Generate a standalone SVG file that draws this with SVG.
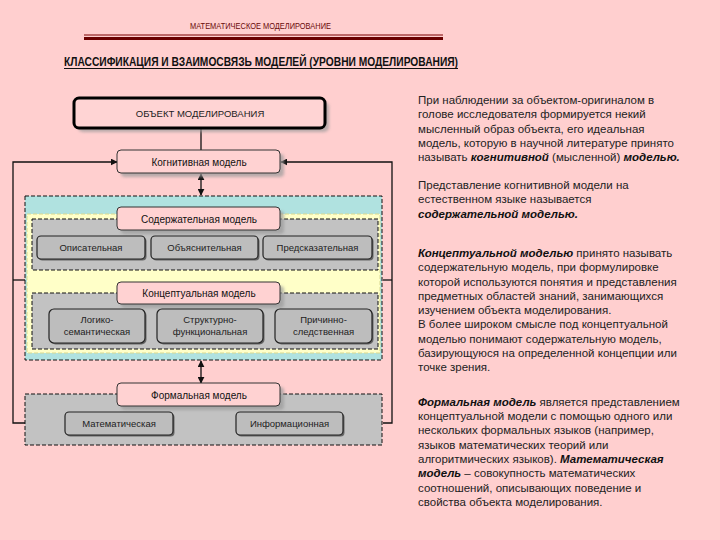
<svg xmlns="http://www.w3.org/2000/svg" width="720" height="540" viewBox="0 0 720 540">
<style>
text{font-family:"Liberation Sans",Arial,sans-serif;fill:#111}
.bg{fill:#ffcfcf}
.panel{stroke:#111;stroke-width:1;stroke-dasharray:4,2}
.gray{fill:#c2c2c2}
.pink{fill:#ffd2d2;stroke:#333;stroke-width:1}
.shadow{fill:#9a9a9a;opacity:0.7}
.sub{fill:#bdbdbd;stroke:#222;stroke-width:1.2}
.subsh{fill:#666}
.nt{font-size:10px;text-anchor:middle}
.st{font-size:9.5px;text-anchor:middle;fill:#222}
.rt{font-size:11.5px;fill:#222}
.bi{font-weight:bold;font-style:italic;fill:#111}
.ln{stroke:#111;stroke-width:1.3;fill:none}
</style>
<defs>
<marker id="ah" viewBox="0 0 10 10" refX="9" refY="5" markerWidth="7" markerHeight="7" orient="auto-start-reverse" markerUnits="userSpaceOnUse">
<path d="M0,0 L10,5 L0,10 z" fill="#111"/>
</marker>
<filter id="blur" x="-10%" y="-10%" width="130%" height="140%"><feGaussianBlur stdDeviation="1.5"/></filter>
</defs>
<rect class="bg" x="0" y="0" width="720" height="540"/>

<g id="header">
<text x="260.5" y="29" font-size="9.5" text-anchor="middle" style="fill:#6a0a0a" textLength="141" lengthAdjust="spacingAndGlyphs">МАТЕМАТИЧЕСКОЕ МОДЕЛИРОВАНИЕ</text>
<line x1="84" y1="35" x2="443" y2="35" stroke="#7a0000" stroke-width="1"/>
<line x1="84" y1="38.5" x2="443" y2="38.5" stroke="#6a0000" stroke-width="3"/>
<text x="261" y="66" font-size="13" font-weight="bold" text-anchor="middle" textLength="394" lengthAdjust="spacingAndGlyphs">КЛАССИФИКАЦИЯ И ВЗАИМОСВЯЗЬ МОДЕЛЕЙ (УРОВНИ МОДЕЛИРОВАНИЯ)</text>
<line x1="64" y1="68.5" x2="458" y2="68.5" stroke="#111" stroke-width="1"/>
</g>

<g id="panel-content">
<rect x="25" y="196" width="357" height="164" fill="#b0e2e0" class="panel"/>
<rect x="27" y="214" width="353" height="139" fill="#ffffc8" stroke="#d8d890" stroke-width="1" stroke-dasharray="4,2"/>
<rect x="32" y="219" width="346" height="51" class="gray panel"/>
<rect x="32" y="293" width="346" height="56" class="gray panel"/>
</g>
<g id="panel-formal">
<rect x="25" y="394" width="357" height="51" class="gray panel"/>
</g>

<g id="connectors">
<line class="ln" x1="201" y1="128" x2="201" y2="150"/>
<polyline class="ln" points="25,423 13,423 13,162 117,162" marker-end="url(#ah)"/>
<polyline class="ln" points="383,423 392,423 392,162 281,162" marker-end="url(#ah)"/>
<line class="ln" x1="13" y1="280" x2="25" y2="280"/>
<line class="ln" x1="383" y1="280" x2="392" y2="280"/>
<line class="ln" x1="201" y1="174" x2="201" y2="195" marker-start="url(#ah)" marker-end="url(#ah)"/>
<line class="ln" x1="201" y1="361" x2="201" y2="383" marker-start="url(#ah)" marker-end="url(#ah)"/>
</g>

<g id="node-object">
<rect x="78" y="102" width="251" height="30" rx="5" class="shadow" filter="url(#blur)"/>
<rect x="74" y="98" width="251" height="30" rx="5" fill="#ffd4d4" stroke="#000" stroke-width="3"/>
<text x="200" y="117" font-size="9.5" text-anchor="middle" style="fill:#222">ОБЪЕКТ   МОДЕЛИРОВАНИЯ</text>
</g>

<g id="node-cognitive">
<rect x="121" y="154" width="163" height="23" rx="4" class="shadow" filter="url(#blur)"/>
<rect x="117" y="150" width="163" height="23" rx="4" class="pink"/>
<text x="199" y="165.5" class="nt">Когнитивная модель</text>
</g>

<g id="node-content">
<rect x="121" y="211" width="163" height="23" rx="4" class="shadow" filter="url(#blur)"/>
<rect x="117" y="207" width="163" height="23" rx="4" class="pink"/>
<text x="199" y="222.5" class="nt">Содержательная модель</text>
</g>
<g id="node-descriptive">
<rect x="38.5" y="237.5" width="108" height="23" rx="4" class="subsh"/>
<rect x="37" y="236" width="108" height="23" rx="4" class="sub"/>
<text x="91" y="251" class="st">Описательная</text>
</g>
<g id="node-explanatory">
<rect x="152.5" y="237.5" width="107" height="23" rx="4" class="subsh"/>
<rect x="151" y="236" width="107" height="23" rx="4" class="sub"/>
<text x="204.5" y="251" class="st">Объяснительная</text>
</g>
<g id="node-predictive">
<rect x="264.5" y="237.5" width="109" height="23" rx="4" class="subsh"/>
<rect x="263" y="236" width="109" height="23" rx="4" class="sub"/>
<text x="317.5" y="251" class="st">Предсказательная</text>
</g>

<g id="node-conceptual">
<rect x="121" y="286" width="163" height="22" rx="4" class="shadow" filter="url(#blur)"/>
<rect x="117" y="282" width="163" height="22" rx="4" class="pink"/>
<text x="199" y="297" class="nt">Концептуальная модель</text>
</g>
<g id="node-logical">
<rect x="50.5" y="310.5" width="96" height="34" rx="5" class="subsh"/>
<rect x="49" y="309" width="96" height="34" rx="5" class="sub"/>
<text x="97" y="323" class="st">Логико-</text>
<text x="97" y="335" class="st">семантическая</text>
</g>
<g id="node-structural">
<rect x="158.5" y="310.5" width="106" height="34" rx="5" class="subsh"/>
<rect x="157" y="309" width="106" height="34" rx="5" class="sub"/>
<text x="210" y="323" class="st">Структурно-</text>
<text x="210" y="335" class="st">функциональная</text>
</g>
<g id="node-causal">
<rect x="276.5" y="310.5" width="97" height="34" rx="5" class="subsh"/>
<rect x="275" y="309" width="97" height="34" rx="5" class="sub"/>
<text x="323.5" y="323" class="st">Причинно-</text>
<text x="323.5" y="335" class="st">следственная</text>
</g>

<g id="node-formal">
<rect x="121" y="387" width="163" height="23" rx="4" class="shadow" filter="url(#blur)"/>
<rect x="117" y="383" width="163" height="23" rx="4" class="pink"/>
<text x="199" y="398.5" class="nt">Формальная модель</text>
</g>
<g id="node-math">
<rect x="66.5" y="413.5" width="108" height="23" rx="4" class="subsh"/>
<rect x="65" y="412" width="108" height="23" rx="4" class="sub"/>
<text x="119" y="427" class="st">Математическая</text>
</g>
<g id="node-info">
<rect x="237.5" y="413.5" width="107" height="23" rx="4" class="subsh"/>
<rect x="236" y="412" width="107" height="23" rx="4" class="sub"/>
<text x="289.5" y="427" class="st">Информационная</text>
</g>

<g id="description">
<text class="rt" x="418" y="104">При наблюдении за объектом-оригиналом в</text>
<text class="rt" x="418" y="118">голове исследователя формируется некий</text>
<text class="rt" x="418" y="133">мысленный образ объекта, его идеальная</text>
<text class="rt" x="418" y="147">модель, которую в научной литературе принято</text>
<text class="rt" x="418" y="161">называть <tspan class="bi">когнитивной</tspan> (мысленной) <tspan class="bi">моделью.</tspan></text>

<text class="rt" x="418" y="189">Представление когнитивной модели на</text>
<text class="rt" x="418" y="203">естественном языке называется</text>
<text class="rt" x="418" y="218"><tspan class="bi">содержательной моделью.</tspan></text>

<text class="rt" x="418" y="257"><tspan class="bi">Концептуальной моделью</tspan> принято называть</text>
<text class="rt" x="418" y="271">содержательную модель, при формулировке</text>
<text class="rt" x="418" y="286">которой используются понятия и представления</text>
<text class="rt" x="418" y="300">предметных областей знаний, занимающихся</text>
<text class="rt" x="418" y="314">изучением объекта моделирования.</text>
<text class="rt" x="418" y="328">В более широком смысле под концептуальной</text>
<text class="rt" x="418" y="343">моделью понимают содержательную модель,</text>
<text class="rt" x="418" y="357">базирующуюся на определенной концепции или</text>
<text class="rt" x="418" y="371">точке зрения.</text>

<text class="rt" x="418" y="406"><tspan class="bi">Формальная модель</tspan> является представлением</text>
<text class="rt" x="418" y="420">концептуальной модели с помощью одного или</text>
<text class="rt" x="418" y="434">нескольких формальных языков (например,</text>
<text class="rt" x="418" y="449">языков математических теорий или</text>
<text class="rt" x="418" y="463">алгоритмических языков). <tspan class="bi">Математическая</tspan></text>
<text class="rt" x="418" y="477"><tspan class="bi">модель</tspan> – совокупность математических</text>
<text class="rt" x="418" y="492">соотношений, описывающих поведение и</text>
<text class="rt" x="418" y="506">свойства объекта моделирования.</text>
</g>
</svg>
